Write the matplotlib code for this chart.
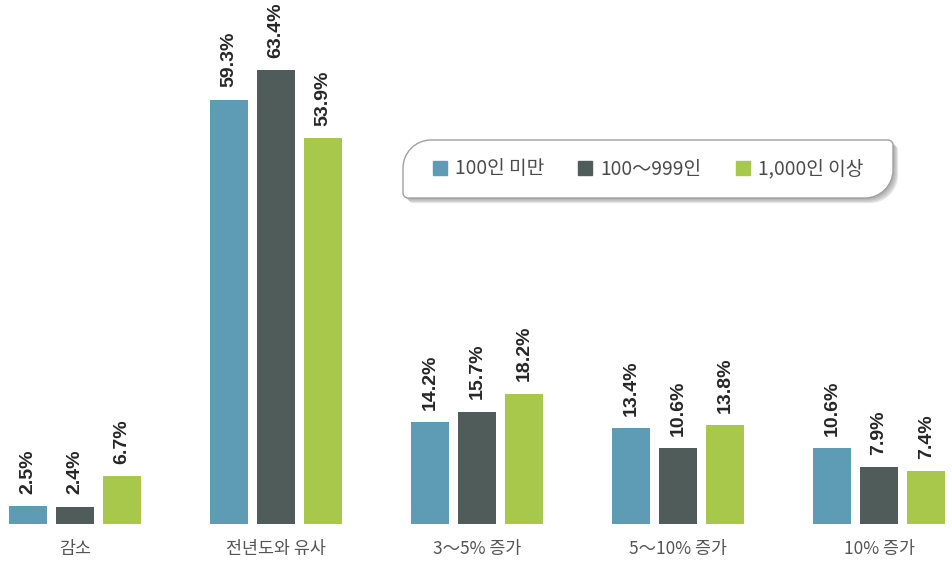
import matplotlib
matplotlib.use('Agg')
import matplotlib.pyplot as plt
from matplotlib.patches import PathPatch, Rectangle
from matplotlib.path import Path
from matplotlib.transforms import Affine2D
import numpy as np

plt.rcParams['font.family'] = ['Noto Sans CJK KR', 'DejaVu Sans']

categories = ['감소', '전년도와 유사', '3～5% 증가', '5～10% 증가', '10% 증가']
series_names = ['100인 미만', '100～999인', '1,000인 이상']
small = [2.5, 59.3, 14.2, 13.4, 10.6]
medium = [2.4, 63.4, 15.7, 10.6, 7.9]
large = [6.7, 53.9, 18.2, 13.8, 7.4]
colors = ['#5e9bb4', '#4f5c59', '#a8c84b']

W, H = 952, 561
fig = plt.figure(figsize=(W / 100, H / 100), dpi=100)
ax = fig.add_axes([0, 0, 1, 1])

x = np.arange(len(categories))
width = 0.19
offsets = [-0.235, 0.0, 0.235]

for vals, off, col, name in zip([small, medium, large], offsets, colors, series_names):
    bars = ax.bar(x + off, vals, width, color=col, label=name)
    for b, v in zip(bars, vals):
        ax.annotate(f'{v}%', (b.get_x() + b.get_width() / 2, v),
                    xytext=(0, 9), textcoords='offset points',
                    rotation=90, ha='center', va='bottom',
                    fontsize=14, fontweight='bold', color='#262626',
                    family=['Liberation Sans', 'DejaVu Sans'])

for xi, cat in zip(x, categories):
    ax.annotate(cat, (xi, 0), xytext=(0, -18), textcoords='offset points',
                ha='center', va='center', fontsize=12.5, color='#555555')

ax.set_xlim(-0.373, 4.363)
ax.set_ylim(-5.17, 73.2)
ax.axis('off')


def box_path(x0, y0, x1, y1, rb, rs):
    # rounded box: big corners top-left / bottom-right, small on the others
    k = 0.55
    verts = [
        (x0 + rb, y0), (x1 - rs, y0),
        (x1 - rs + k * rs, y0), (x1, y0 + rs - k * rs), (x1, y0 + rs),
        (x1, y1 - rb),
        (x1, y1 - rb + k * rb), (x1 - rb + k * rb, y1), (x1 - rb, y1),
        (x0 + rs, y1),
        (x0 + rs - k * rs, y1), (x0, y1 - rs + k * rs), (x0, y1 - rs),
        (x0, y0 + rb),
        (x0, y0 + rb - k * rb), (x0 + rb - k * rb, y0), (x0 + rb, y0),
    ]
    codes = [Path.MOVETO, Path.LINETO,
             Path.CURVE4, Path.CURVE4, Path.CURVE4,
             Path.LINETO,
             Path.CURVE4, Path.CURVE4, Path.CURVE4,
             Path.LINETO,
             Path.CURVE4, Path.CURVE4, Path.CURVE4,
             Path.LINETO,
             Path.CURVE4, Path.CURVE4, Path.CURVE4]
    return Path(verts, codes)


# pixel coordinates with origin at top-left
px = Affine2D().scale(1 / W, -1 / H).translate(0, 1) + fig.transFigure

bx0, by0, bx1, by1 = 403, 140, 893, 198
for i, a in enumerate([0.07, 0.07, 0.09, 0.10]):
    d = 1.5 + i * 1.2
    sh = PathPatch(box_path(bx0 + d, by0 + d, bx1 + d, by1 + d, 28, 5),
                   transform=px, facecolor='#000000', edgecolor='none', alpha=a)
    fig.patches.append(sh)
box = PathPatch(box_path(bx0, by0, bx1, by1, 28, 5), transform=px,
                facecolor='white', edgecolor='#a0a0a0', linewidth=1.0)
fig.patches.append(box)

handles = [Rectangle((0, 0), 1, 1, color=c) for c in colors]
leg = fig.legend(handles, series_names, loc='center',
                 bbox_to_anchor=(((bx0 + bx1) / 2 + 0) / W, 1 - ((by0 + by1) / 2) / H),
                 ncol=3, frameon=False, fontsize=13.8,
                 handlelength=0.72, handleheight=0.72, handletextpad=0.42,
                 columnspacing=1.8)
for t in leg.get_texts():
    t.set_color('#4a4a4a')
leg.set_zorder(5)

fig.savefig('out.png', dpi=100, facecolor='white')
